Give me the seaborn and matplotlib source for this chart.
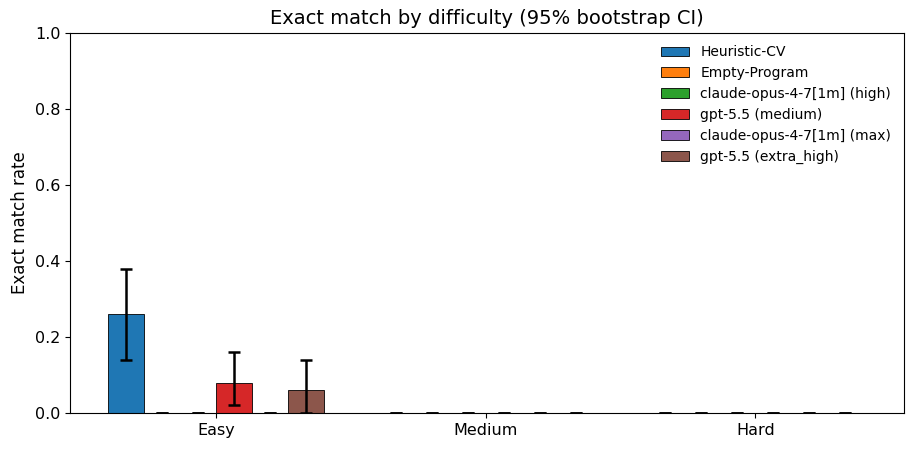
import matplotlib
matplotlib.use("Agg")
import matplotlib.pyplot as plt
import seaborn as sns
import pandas as pd
import numpy as np

difficulties = ["Easy", "Medium", "Hard"]
models = ["Heuristic-CV", "Empty-Program", "claude-opus-4-7[1m] (high)",
          "gpt-5.5 (medium)", "claude-opus-4-7[1m] (max)", "gpt-5.5 (extra_high)"]
rates = {
    "Heuristic-CV":               [0.26, 0.0, 0.0],
    "Empty-Program":              [0.0, 0.0, 0.0],
    "claude-opus-4-7[1m] (high)": [0.0, 0.0, 0.0],
    "gpt-5.5 (medium)":           [0.08, 0.0, 0.0],
    "claude-opus-4-7[1m] (max)":  [0.0, 0.0, 0.0],
    "gpt-5.5 (extra_high)":       [0.06, 0.0, 0.0],
}
ci_low = {
    "Heuristic-CV":               [0.14, 0.0, 0.0],
    "Empty-Program":              [0.0, 0.0, 0.0],
    "claude-opus-4-7[1m] (high)": [0.0, 0.0, 0.0],
    "gpt-5.5 (medium)":           [0.02, 0.0, 0.0],
    "claude-opus-4-7[1m] (max)":  [0.0, 0.0, 0.0],
    "gpt-5.5 (extra_high)":       [0.0, 0.0, 0.0],
}
ci_high = {
    "Heuristic-CV":               [0.38, 0.0, 0.0],
    "Empty-Program":              [0.0, 0.0, 0.0],
    "claude-opus-4-7[1m] (high)": [0.0, 0.0, 0.0],
    "gpt-5.5 (medium)":           [0.16, 0.0, 0.0],
    "claude-opus-4-7[1m] (max)":  [0.0, 0.0, 0.0],
    "gpt-5.5 (extra_high)":       [0.14, 0.0, 0.0],
}

rows = []
for m in models:
    for i, d in enumerate(difficulties):
        rows.append({"difficulty": d, "model": m, "rate": rates[m][i],
                     "lo": ci_low[m][i], "hi": ci_high[m][i]})
df = pd.DataFrame(rows)

plt.rcParams['font.family'] = ['DejaVu Sans']

fig, ax = plt.subplots(figsize=(9.11, 4.49), dpi=100)
palette = sns.color_palette("tab10", 6)
sns.barplot(data=df, x="difficulty", y="rate", hue="model", order=difficulties,
            hue_order=models, palette=palette, errorbar=None, width=0.8,
            edgecolor="black", linewidth=0.6, saturation=1, ax=ax)

for cont, m in zip(ax.containers, models):
    sub = df[df.model == m].set_index("difficulty").loc[difficulties]
    xs = [p.get_x() + p.get_width() / 2 for p in cont.patches]
    y = sub["rate"].values
    yerr = np.vstack([y - sub["lo"].values, sub["hi"].values - y])
    ax.errorbar(xs, y, yerr=yerr, fmt="none", ecolor="black", elinewidth=1.8,
                capsize=4, capthick=1.8, zorder=3)

ax.set_ylim(0, 1.0)
ax.set_xlim(-0.54, 2.55)
ax.set_xlabel("")
ax.set_ylabel("Exact match rate", fontsize=12)
ax.set_title("Exact match by difficulty (95% bootstrap CI)", fontsize=14)
ax.tick_params(labelsize=11.5)
ax.legend(loc="upper right", fontsize=10, frameon=False)
fig.subplots_adjust(left=0.077, right=0.992, top=0.927, bottom=0.08)
fig.savefig("out.png", dpi=100)
